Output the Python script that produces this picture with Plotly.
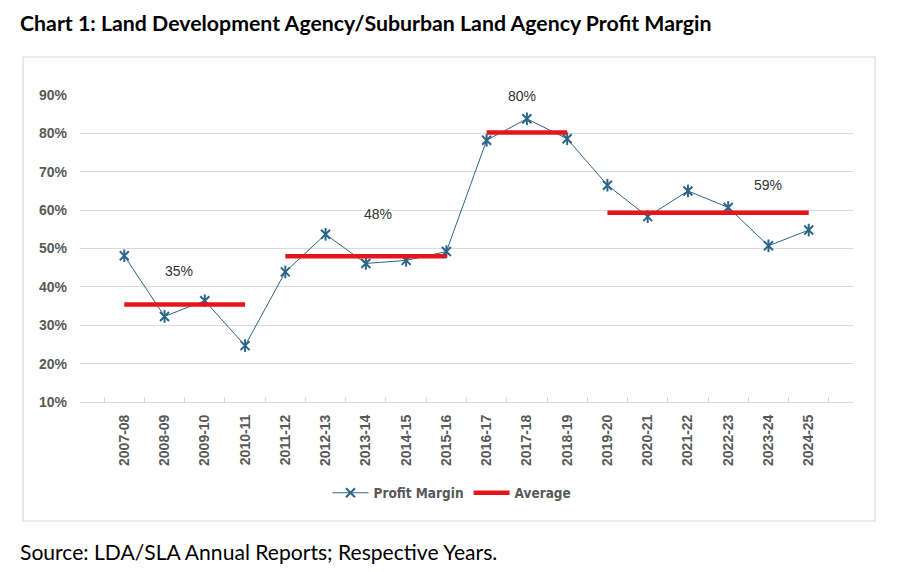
import plotly.graph_objects as go

# data
years = ["2007-08", "2008-09", "2009-10", "2010-11", "2011-12", "2012-13",
         "2013-14", "2014-15", "2015-16", "2016-17", "2017-18", "2018-19",
         "2019-20", "2020-21", "2021-22", "2022-23", "2023-24", "2024-25"]
profit_margin = [0.481, 0.323, 0.364, 0.247, 0.439, 0.537, 0.461, 0.469, 0.492,
                 0.782, 0.838, 0.786, 0.665, 0.583, 0.650, 0.607, 0.507, 0.548]

avg_start = ["2007-08", "2011-12", "2016-17", "2019-20"]
avg_end = ["2010-11", "2015-16", "2018-19", "2024-25"]
avg_values = [0.354, 0.480, 0.802, 0.593]
avg_labels = ["35%", "48%", "80%", "59%"]

# the page body adds an 8px margin, so the figure is drawn 8px in from the corner
OFF = 8
FIG_W, FIG_H = 900 - OFF, 572 - OFF

# plot area in page pixels
L, R, T, B = 80, 853, 95, 402
W, H = R - L, B - T


def px(x):
    return (x - L) / W


def py(y):
    return (B - y) / H


BLUE = "#2B6688"
RED = "#E8141B"
GREY = "#595959"

fig = go.Figure()

fig.add_trace(go.Scatter(
    x=years, y=profit_margin, mode="lines+markers", name="Profit Margin",
    line=dict(color=BLUE, width=1),
    marker=dict(symbol="x-thin-open", size=9, color=BLUE, line=dict(color=BLUE, width=2)),
))
# vertical stroke of the star marker
fig.add_trace(go.Scatter(
    x=years, y=profit_margin, mode="markers", showlegend=False, hoverinfo="skip",
    marker=dict(symbol="line-ns-open", size=9, color=BLUE, line=dict(color=BLUE, width=2)),
))

for i in range(len(avg_values)):
    fig.add_trace(go.Scatter(
        x=[avg_start[i], avg_end[i]], y=[avg_values[i], avg_values[i]],
        mode="lines", name="Average", legendgroup="avg", showlegend=(i == 0),
        line=dict(color=RED, width=4.5),
    ))

# where the average labels sit (category index, y value)
label_pos = [(1.36, 0.441), (6.31, 0.589), (9.89, 0.897), (16.0, 0.666)]
for (lx, ly), txt in zip(label_pos, avg_labels):
    fig.add_annotation(x=lx, y=ly, text=txt, showarrow=False,
                       font=dict(family="Liberation Sans, Arial", size=14, color="#333333"))

# chart title and source
fig.add_annotation(xref="paper", yref="paper", x=px(18), y=py(23), xanchor="left", yanchor="middle",
                   text="<b>Chart 1: Land Development Agency/Suburban Land Agency Profit Margin</b>",
                   showarrow=False, font=dict(family="Lato", size=21.3, color="black"))
fig.add_annotation(xref="paper", yref="paper", x=px(18), y=py(551), xanchor="left", yanchor="middle",
                   text="Source: LDA/SLA Annual Reports; Respective Years.",
                   showarrow=False, font=dict(family="Lato", size=21.1, color="black"))

# outer chart border
fig.add_shape(type="rect", xref="paper", yref="paper",
              x0=px(23), x1=px(875), y0=py(521), y1=py(57),
              line=dict(color="#D9D9D9", width=1.2), layer="below")

fig.update_layout(
    width=FIG_W, height=FIG_H,
    margin=dict(l=L - OFF, r=900 - R, t=T - OFF, b=572 - B),
    paper_bgcolor="white", plot_bgcolor="white",
    showlegend=True,
    legend=dict(orientation="h", x=px(452), xanchor="center", y=py(493), yanchor="middle",
                font=dict(family="DejaVu Sans Condensed, Liberation Sans Narrow, Liberation Sans",
                          size=13.5, color=GREY, weight="bold"),
                itemwidth=36, traceorder="normal"),
    xaxis=dict(
        type="category", tickangle=-90, showgrid=False,
        showline=True, linecolor="#D9D9D9", linewidth=1,
        ticks="inside", tickson="boundaries", ticklen=5, tickcolor="#D9D9D9",
        ticklabelstandoff=6,
        tickfont=dict(family="Liberation Sans, Arial", size=14, color=GREY, weight="bold"),
    ),
    yaxis=dict(
        range=[0.1, 0.9], dtick=0.1, tickformat=".0%",
        showgrid=True, gridcolor="#D9D9D9", gridwidth=1, zeroline=False,
        ticklabelstandoff=12,
        tickfont=dict(family="Liberation Sans, Arial", size=14, color=GREY, weight="bold"),
    ),
)

fig.write_html("out.html")
